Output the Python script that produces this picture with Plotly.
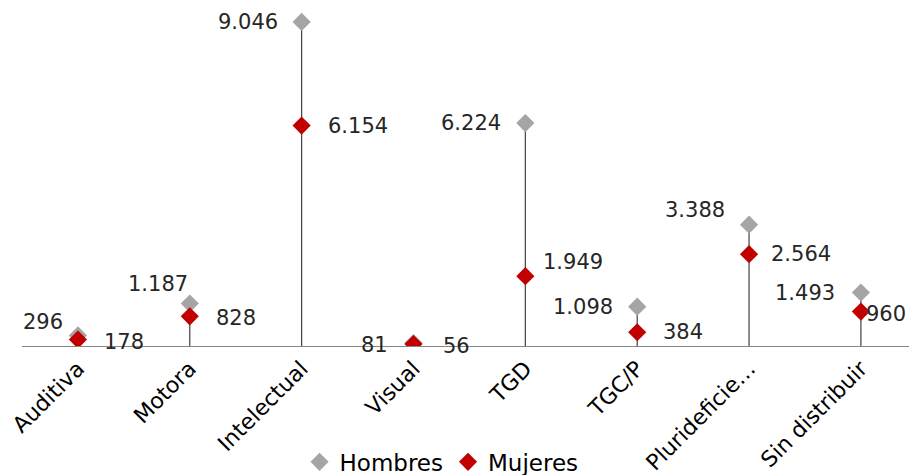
import plotly.graph_objects as go

categories = ["Auditiva", "Motora", "Intelectual", "Visual", "TGD", "TGC/P", "Plurideficie…", "Sin distribuir"]
hombres = [296, 1187, 9046, 81, 6224, 1098, 3388, 1493]
mujeres = [178, 828, 6154, 56, 1949, 384, 2564, 960]

# label nudges (pixels) for readability, per category
h_dx = [-13, 0, -22, -23, -22, -22, -22, -24]
h_dy = [13, 19, 0, -2, 0, 0, 15, 0]
m_dx = [24, 24, 24, 28, 16, 24, 20, 3]
m_dy = [-2, -2, 0, -2, 14, 0, 0, -2]

def fmt(v):
    return f"{v:,}".replace(",", ".")

FONT = "DejaVu Sans"
fig = go.Figure()

# drop lines from axis to max
lx, ly = [], []
for c, h, m in zip(categories, hombres, mujeres):
    lx += [c, c, None]
    ly += [0, max(h, m), None]
fig.add_trace(go.Scatter(x=lx, y=ly, mode="lines", line=dict(color="#404040", width=1.2),
                         showlegend=False, hoverinfo="skip"))

fig.add_trace(go.Scatter(x=categories, y=hombres, mode="markers", name="Hombres",
                         marker=dict(symbol="diamond", size=14, color="#A5A5A5")))
fig.add_trace(go.Scatter(x=categories, y=mujeres, mode="markers", name="Mujeres",
                         marker=dict(symbol="diamond", size=14, color="#C00000")))

for i, c in enumerate(categories):
    fig.add_annotation(x=c, y=hombres[i], text=fmt(hombres[i]), showarrow=False,
                       xanchor="right", yanchor="middle", xshift=h_dx[i], yshift=h_dy[i],
                       font=dict(family=FONT, size=21, color="#262626"))
    fig.add_annotation(x=c, y=mujeres[i], text=fmt(mujeres[i]), showarrow=False,
                       xanchor="left", yanchor="middle", xshift=m_dx[i], yshift=m_dy[i],
                       font=dict(family=FONT, size=21, color="#262626"))

fig.update_layout(
    width=909, height=475,
    margin=dict(l=22, r=0, t=10, b=129, autoexpand=False),
    paper_bgcolor="white", plot_bgcolor="white",
    showlegend=True,
    legend=dict(orientation="h", x=0.473, xanchor="center", y=-0.345, yanchor="middle",
                font=dict(family=FONT, size=23, color="#000000"), itemwidth=30,
                bgcolor="rgba(0,0,0,0)"),
    xaxis=dict(type="category", categoryarray=categories, range=[-0.5, 7.43],
               showline=True, linecolor="#868686", linewidth=1, showgrid=False,
               ticks="", tickangle=-45, automargin=False,
               tickfont=dict(family=FONT, size=22, color="#000000")),
    yaxis=dict(range=[0, 9380], visible=False, showgrid=False, zeroline=False),
)

fig.write_html("out.html", config={"displayModeBar": False},
               post_script="document.body.style.margin='0';document.body.style.overflow='hidden';")
